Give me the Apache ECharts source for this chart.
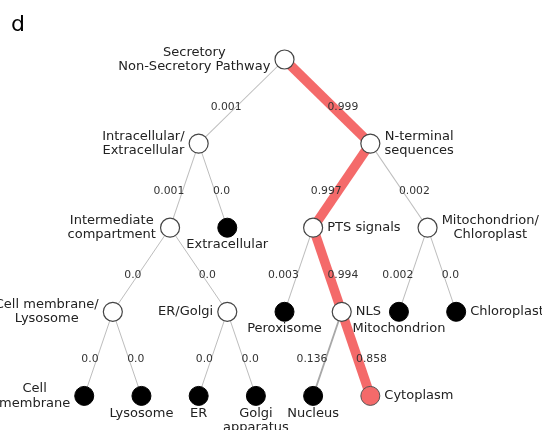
<!DOCTYPE html>
<html>
<head>
<meta charset="utf-8">
<script src="https://cdn.jsdelivr.net/npm/echarts@6/dist/echarts.min.js"></script>
<style>
  html, body { margin: 0; padding: 0; background: #ffffff; }
  #chart { width: 542px; height: 430px; }
</style>
</head>
<body>
<div id="chart"></div>
<script>
// Subcellular localization decision tree.
// Node captions, their column on the layout grid and their depth in the tree.
const nodeLabels = [
  'Secretory\nNon-Secretory Pathway',   // 0
  'Intracellular/\nExtracellular',      // 1
  'N-terminal\nsequences',              // 2
  'Intermediate\ncompartment',          // 3
  'Extracellular',                      // 4
  'PTS signals',                        // 5
  'Mitochondrion/\nChloroplast',        // 6
  'Cell membrane/\nLysosome',           // 7
  'ER/Golgi',                           // 8
  'Peroxisome',                         // 9
  'NLS',                                // 10
  'Mitochondrion',                      // 11
  'Chloroplast',                        // 12
  'Cell\nmembrane',                     // 13
  'Lysosome',                           // 14
  'ER',                                 // 15
  'Golgi\napparatus',                   // 16
  'Nucleus',                            // 17
  'Cytoplasm'                           // 18
];
const nodeColumns = [10, 7, 13, 6, 8, 11, 15, 4, 8, 10, 12, 14, 16, 3, 5, 7, 9, 11, 13];
const nodeDepths  = [0, 1, 1, 2, 2, 2, 2, 3, 3, 3, 3, 3, 3, 4, 4, 4, 4, 4, 4];

// Branches: parent -> child with the predicted probability of that branch.
const edgeParents       = [0, 0, 1, 1, 2, 2, 3, 3, 5, 5, 6, 6, 7, 7, 8, 8, 10, 10];
const edgeChildren      = [1, 2, 3, 4, 5, 6, 7, 8, 9, 10, 11, 12, 13, 14, 15, 16, 17, 18];
const edgeProbabilities = [0.001, 0.999, 0.001, 0.0, 0.997, 0.002, 0.0, 0.0, 0.003, 0.994,
                           0.002, 0.0, 0.0, 0.0, 0.0, 0.0, 0.136, 0.858];

// ---- presentation ----
const FONT = 'DejaVu Sans';
const NODE_FONT_SIZE = 13;
const EDGE_FONT_SIZE = 10.8;
const RED = '#f46a6a';

// Which side of the node each caption sits on.
const captionSide = {};
[0, 1, 3, 7, 8, 13].forEach(i => captionSide[i] = 'left');
[2, 5, 6, 10, 12, 18].forEach(i => captionSide[i] = 'right');
[4, 9, 11, 14, 15, 16, 17].forEach(i => captionSide[i] = 'bottom');

// Tree structure helpers
const parentEdgeOf = {};
edgeChildren.forEach((c, e) => { parentEdgeOf[c] = e; });
const hasChildren = new Set(edgeParents);

// Most probable leaf: product of branch probabilities along its path.
function pathProbability(node) {
  let p = 1;
  while (parentEdgeOf[node] !== undefined) {
    const e = parentEdgeOf[node];
    p *= edgeProbabilities[e];
    node = edgeParents[e];
  }
  return p;
}
let bestLeaf = -1, bestP = -1;
nodeLabels.forEach((_, i) => {
  if (hasChildren.has(i)) return;
  const p = pathProbability(i);
  if (p > bestP) { bestP = p; bestLeaf = i; }
});
const bestEdges = new Set();
for (let n = bestLeaf; parentEdgeOf[n] !== undefined; n = edgeParents[parentEdgeOf[n]]) {
  bestEdges.add(parentEdgeOf[n]);
}

// Text measuring for centred multi-line captions beside a node
const measureCtx = document.createElement('canvas').getContext('2d');
function blockWidth(text) {
  measureCtx.font = NODE_FONT_SIZE + 'px "' + FONT + '"';
  return Math.max.apply(null, text.split('\n').map(s => measureCtx.measureText(s).width));
}

const graphNodes = nodeLabels.map((text, i) => {
  const leaf = !hasChildren.has(i);
  const side = captionSide[i];
  const w = blockWidth(text);
  let label;
  if (side === 'bottom') {
    label = { position: 'bottom', distance: 0, align: 'center' };
  } else if (side === 'left') {
    label = { position: 'left', distance: 4, align: 'center', offset: [-w / 2, 0] };
  } else {
    label = { position: 'right', distance: 4, align: 'center', offset: [w / 2, 0] };
  }
  let itemStyle;
  if (i === bestLeaf) itemStyle = { color: RED, borderColor: '#555', borderWidth: 1 };
  else if (leaf) itemStyle = { color: '#000000', borderColor: '#000000', borderWidth: 1 };
  else itemStyle = { color: '#ffffff', borderColor: '#444444', borderWidth: 1.2 };
  return {
    name: 'n' + i,
    value: [nodeColumns[i], nodeDepths[i]],
    itemStyle: itemStyle,
    label: Object.assign({
      show: true,
      formatter: text,
      fontFamily: FONT,
      fontSize: NODE_FONT_SIZE,
      lineHeight: 14.5,
      color: '#222222'
    }, label)
  };
});

const graphLinks = edgeParents.map((p, e) => {
  const onPath = bestEdges.has(e);
  return {
    source: p,
    target: edgeChildren[e],
    lineStyle: onPath
      ? { color: RED, width: 9.5, opacity: 1, curveness: 0 }
      : { color: edgeProbabilities[e] > 0.1 ? '#a8a8a8' : '#bdbdbd',
          width: 1 + 6 * edgeProbabilities[e], opacity: 1, curveness: 0 }
  };
});

// Probability captions at the middle of each branch
const edgeLabelData = edgeParents.map((p, e) => {
  const c = edgeChildren[e];
  return [
    (nodeColumns[p] + nodeColumns[c]) / 2,
    (nodeDepths[p] + nodeDepths[c]) / 2,
    edgeProbabilities[e],
    nodeColumns[c] < nodeColumns[p] ? 1 : 0
  ];
});

const chart = echarts.init(document.getElementById('chart'), null, { renderer: 'canvas' });
chart.setOption({
  animation: false,
  backgroundColor: '#ffffff',
  grid: { left: 27, right: 0, top: 59.5, bottom: 34.1 },
  xAxis: { type: 'value', min: 1, max: 19, show: false },
  yAxis: { type: 'value', min: 0, max: 4, inverse: true, show: false },
  graphic: [{
    type: 'text', left: 11, top: 14,
    style: { text: 'd', fontFamily: FONT, fontSize: 22, fill: '#000000' }
  }],
  series: [
    {
      type: 'graph',
      layout: 'none',
      coordinateSystem: 'cartesian2d',
      symbol: 'circle',
      symbolSize: 19,
      edgeSymbol: ['none', 'none'],
      silent: true,
      emphasis: { disabled: true },
      data: graphNodes,
      links: graphLinks,
      z: 2
    },
    {
      type: 'custom',
      coordinateSystem: 'cartesian2d',
      silent: true,
      z: 5,
      data: edgeLabelData,
      renderItem: function (params, api) {
        const pt = api.coord([api.value(0), api.value(1)]);
        const prob = api.value(2);
        const leftward = api.value(3) === 1;
        return {
          type: 'text',
          x: pt[0],
          y: pt[1] + 5.5,
          style: {
            text: prob === 0 ? '0.0' : String(prob),
            align: leftward ? 'right' : 'left',
            verticalAlign: 'middle',
            fontFamily: FONT,
            fontSize: EDGE_FONT_SIZE,
            fill: '#333333'
          }
        };
      }
    }
  ]
});
</script>
</body>
</html>
